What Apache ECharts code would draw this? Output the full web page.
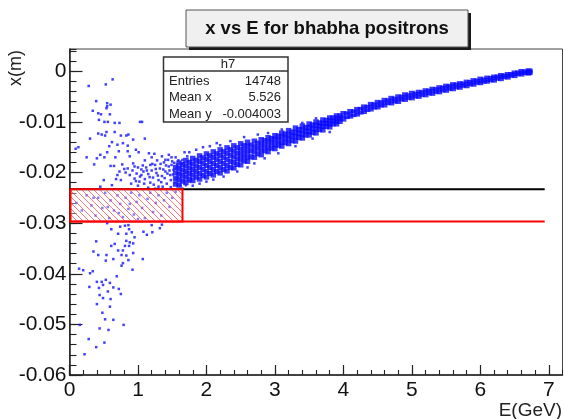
<!DOCTYPE html>
<html>
<head>
<meta charset="utf-8">
<script src="https://cdn.jsdelivr.net/npm/echarts@6/dist/echarts.min.js"></script>
<style>
  html, body { margin: 0; padding: 0; background: #fff; }
  #chart { width: 564px; height: 419px; }
</style>
</head>
<body>
<div id="chart"></div>
<script>
// Narrow high-energy part of the x vs E correlation: each row is [E, x1, x2, ...]
const bandColumns = [
  [6.72, 0.0002, -0.0001, -0.0004],
  [6.70, 0.0002, -0.0002, -0.0005],
  [6.65, 0.0000, -0.0004],
  [6.60, 0.0001, -0.0003, -0.0007],
  [6.55, -0.0002, -0.0006],
  [6.50, -0.0002, -0.0006, -0.0010],
  [6.45, -0.0005, -0.0009],
  [6.40, -0.0005, -0.0009, -0.0013],
  [6.35, -0.0008, -0.0012],
  [6.30, -0.0007, -0.0011, -0.0016],
  [6.25, -0.0010, -0.0015],
  [6.20, -0.0010, -0.0014, -0.0019],
  [6.15, -0.0013, -0.0018],
  [6.10, -0.0012, -0.0017, -0.0021],
  [6.05, -0.0016, -0.0021],
  [6.00, -0.0014, -0.0019, -0.0024],
  [5.95, -0.0018, -0.0023],
  [5.90, -0.0017, -0.0022, -0.0027],
  [5.85, -0.0021, -0.0026],
  [5.80, -0.0020, -0.0025, -0.0030],
  [5.75, -0.0024, -0.0029],
  [5.70, -0.0023, -0.0028, -0.0033],
  [5.65, -0.0026, -0.0032],
  [5.60, -0.0025, -0.0030, -0.0036],
  [5.55, -0.0029, -0.0035],
  [5.50, -0.0028, -0.0033, -0.0039],
  [5.45, -0.0032, -0.0038],
  [5.40, -0.0031, -0.0036, -0.0042],
  [5.35, -0.0035, -0.0041],
  [5.30, -0.0034, -0.0039, -0.0045],
  [5.25, -0.0038, -0.0044],
  [5.20, -0.0037, -0.0042, -0.0048],
  [5.15, -0.0041, -0.0047],
  [5.10, -0.0040, -0.0045, -0.0051],
  [5.05, -0.0044, -0.0050],
  [5.00, -0.0042, -0.0048, -0.0054],
  [4.95, -0.0047, -0.0053],
  [4.90, -0.0045, -0.0051, -0.0057],
  [4.85, -0.0050, -0.0056],
  [4.80, -0.0049, -0.0055, -0.0061],
  [4.75, -0.0054, -0.0060],
  [4.70, -0.0052, -0.0058, -0.0064],
  [4.65, -0.0057, -0.0063],
  [4.60, -0.0056, -0.0062, -0.0068],
  [4.55, -0.0061, -0.0068],
  [4.50, -0.0060, -0.0066, -0.0072],
  [4.45, -0.0065, -0.0072],
  [4.40, -0.0064, -0.0070, -0.0076],
  [4.35, -0.0070, -0.0077],
  [4.30, -0.0069, -0.0075, -0.0081],
  [4.25, -0.0074, -0.0082],
  [4.20, -0.0074, -0.0080, -0.0086],
  [4.15, -0.0079, -0.0087],
  [4.10, -0.0078, -0.0084, -0.0090],
  [4.05, -0.0083, -0.0091],
  [4.00, -0.0082, -0.0089, -0.0096]
];

// Wider low-energy part of the correlation: [E, x1, x2, ...]
const spreadColumns = [
  [3.95, -0.0088, -0.0093, -0.0099],
  [3.90, -0.0088, -0.0093, -0.0099, -0.0104],
  [3.85, -0.0092, -0.0098, -0.0104],
  [3.80, -0.0092, -0.0098, -0.0104, -0.0110],
  [3.75, -0.0097, -0.0103, -0.0109],
  [3.70, -0.0096, -0.0103, -0.0109, -0.0116],
  [3.65, -0.0102, -0.0108, -0.0115],
  [3.60, -0.0100, -0.0107, -0.0115, -0.0122],
  [3.55, -0.0106, -0.0113, -0.0121],
  [3.50, -0.0104, -0.0111, -0.0119, -0.0126],
  [3.45, -0.0111, -0.0118, -0.0126],
  [3.40, -0.0108, -0.0116, -0.0124, -0.0132],
  [3.35, -0.0115, -0.0123, -0.0131],
  [3.30, -0.0112, -0.0121, -0.0129, -0.0138],
  [3.25, -0.0120, -0.0128, -0.0137],
  [3.20, -0.0117, -0.0126, -0.0134, -0.0143],
  [3.15, -0.0124, -0.0132, -0.0141],
  [3.10, -0.0122, -0.0130, -0.0140, -0.0148],
  [3.05, -0.0128, -0.0137, -0.0146],
  [3.00, -0.0127, -0.0135, -0.0145, -0.0153],
  [2.95, -0.0133, -0.0142, -0.0152],
  [2.90, -0.0131, -0.0140, -0.0150, -0.0159],
  [2.85, -0.0137, -0.0147, -0.0157],
  [2.80, -0.0135, -0.0145, -0.0155, -0.0165],
  [2.75, -0.0142, -0.0152, -0.0163],
  [2.70, -0.0138, -0.0149, -0.0159, -0.0170],
  [2.65, -0.0146, -0.0157, -0.0169],
  [2.60, -0.0140, -0.0149, -0.0159, -0.0169, -0.0178],
  [2.55, -0.0147, -0.0157, -0.0167, -0.0177],
  [2.50, -0.0143, -0.0154, -0.0164, -0.0174, -0.0185],
  [2.45, -0.0151, -0.0162, -0.0173, -0.0184],
  [2.40, -0.0147, -0.0158, -0.0169, -0.0180, -0.0191],
  [2.35, -0.0155, -0.0166, -0.0178, -0.0190],
  [2.30, -0.0151, -0.0162, -0.0174, -0.0186, -0.0197],
  [2.25, -0.0159, -0.0170, -0.0182, -0.0194],
  [2.20, -0.0155, -0.0166, -0.0178, -0.0190, -0.0201],
  [2.15, -0.0163, -0.0174, -0.0186, -0.0198],
  [2.10, -0.0159, -0.0170, -0.0182, -0.0194, -0.0205],
  [2.05, -0.0167, -0.0178, -0.0190, -0.0202],
  [2.00, -0.0163, -0.0174, -0.0186, -0.0198, -0.0209],
  [1.95, -0.0171, -0.0182, -0.0194, -0.0206],
  [1.90, -0.0167, -0.0178, -0.0190, -0.0202, -0.0213],
  [1.85, -0.0176, -0.0187, -0.0198, -0.0209],
  [1.80, -0.0172, -0.0183, -0.0194, -0.0205, -0.0216],
  [1.75, -0.0180, -0.0191, -0.0202, -0.0213],
  [1.70, -0.0176, -0.0187, -0.0198, -0.0209, -0.0220],
  [1.65, -0.0184, -0.0195, -0.0206, -0.0217],
  [1.60, -0.0181, -0.0192, -0.0203, -0.0214, -0.0225],
  [1.55, -0.0190, -0.0201, -0.0212, -0.0223]
];

// Individual entries scattered around the core, mostly at low energy
const scatterPoints = [
  [0.63, -0.0016], [0.28, -0.0029], [0.53, -0.0026], [0.39, -0.0059], [0.55, -0.0063],
  [0.60, -0.0066], [0.55, -0.0069], [0.34, -0.0078], [0.42, -0.0083], [0.46, -0.0085],
  [0.54, -0.0073], [0.59, -0.0085], [0.43, -0.0096], [0.51, -0.0100], [0.56, -0.0100],
  [0.66, -0.0102], [0.73, -0.0102], [1.03, -0.0100], [1.06, -0.0100], [0.42, -0.0123],
  [0.47, -0.0125], [0.52, -0.0127], [0.54, -0.0120], [0.66, -0.0120], [0.75, -0.0127],
  [0.30, -0.0133], [0.83, -0.0127], [0.93, -0.0135], [0.86, -0.0125], [1.10, -0.0133],
  [0.62, -0.0140], [0.70, -0.0145], [0.78, -0.0142], [0.85, -0.0147], [0.58, -0.0148],
  [0.09, -0.0153], [0.13, -0.0150], [0.36, -0.0184], [0.55, -0.0160], [0.72, -0.0158],
  [0.85, -0.0158], [1.01, -0.0160], [0.97, -0.0155], [1.16, -0.0162], [1.24, -0.0163],
  [1.20, -0.0170], [1.35, -0.0168], [1.49, -0.0170], [0.60, -0.0187], [0.65, -0.0187],
  [0.77, -0.0184], [0.93, -0.0182], [1.00, -0.0190], [1.05, -0.0194], [0.45, -0.0165],
  [0.40, -0.0172], [0.25, -0.0170], [0.67, -0.0170], [0.88, -0.0168], [1.10, -0.0176],
  [0.51, -0.0170],
  [0.82, -0.0200], [0.88, -0.0205], [0.92, -0.0196], [0.95, -0.0212], [0.98, -0.0202],
  [1.02, -0.0218], [1.05, -0.0205], [1.08, -0.0198], [1.10, -0.0213], [1.12, -0.0190],
  [1.15, -0.0203], [1.18, -0.0220], [1.20, -0.0196], [1.22, -0.0210], [1.25, -0.0185],
  [1.27, -0.0201], [1.30, -0.0215], [1.32, -0.0192], [1.35, -0.0207], [1.38, -0.0180],
  [1.40, -0.0198], [1.42, -0.0222], [1.45, -0.0188], [1.47, -0.0205], [1.50, -0.0178],
  [1.52, -0.0195], [1.55, -0.0212], [1.57, -0.0184], [1.60, -0.0201], [1.62, -0.0226],
  [1.30, -0.0228], [1.15, -0.0230], [1.00, -0.0226], [0.90, -0.0222], [0.75, -0.0215],
  [0.70, -0.0205], [0.62, -0.0225], [0.50, -0.0215], [0.45, -0.0228], [1.40, -0.0175],
  [1.28, -0.0176], [1.45, -0.0165], [1.55, -0.0170], [1.65, -0.0175], [1.70, -0.0225],
  [1.75, -0.0218], [1.68, -0.0160],
  [0.85, -0.0192], [0.95, -0.0188], [1.03, -0.0208], [1.07, -0.0186], [1.13, -0.0196],
  [1.17, -0.0209], [1.21, -0.0183], [1.23, -0.0224], [1.26, -0.0193], [1.29, -0.0206],
  [1.33, -0.0183], [1.34, -0.0219], [1.37, -0.0194], [1.39, -0.0211], [1.41, -0.0186],
  [1.43, -0.0202], [1.44, -0.0175], [1.46, -0.0196], [1.48, -0.0215], [1.49, -0.0185],
  [1.51, -0.0204], [1.53, -0.0181], [1.54, -0.0220], [1.56, -0.0193], [1.58, -0.0208],
  [1.59, -0.0176], [1.61, -0.0190], [1.63, -0.0214], [1.66, -0.0183], [1.69, -0.0199],
  [1.72, -0.0207], [1.36, -0.0228], [1.18, -0.0185], [1.09, -0.0222], [0.97, -0.0217],
  [0.80, -0.0193], [0.73, -0.0198], [0.68, -0.0213], [1.25, -0.0232], [1.48, -0.0229],
  [0.10, -0.0260], [0.18, -0.0275], [0.25, -0.0245], [0.32, -0.0265], [0.38, -0.0285],
  [0.42, -0.0250], [0.48, -0.0270], [0.52, -0.0240], [0.58, -0.0290], [0.60, -0.0255],
  [0.65, -0.0275], [0.70, -0.0245], [0.74, -0.0262], [0.78, -0.0288], [0.82, -0.0250],
  [0.86, -0.0272], [0.90, -0.0240], [0.94, -0.0283], [0.98, -0.0258], [1.02, -0.0245],
  [1.06, -0.0270], [1.10, -0.0290], [1.14, -0.0252], [1.18, -0.0240], [1.22, -0.0278],
  [1.26, -0.0260], [1.30, -0.0245], [1.34, -0.0285], [1.38, -0.0255], [1.42, -0.0240],
  [1.46, -0.0268], [1.50, -0.0250], [1.55, -0.0238], [0.72, -0.0280], [0.88, -0.0262],
  [1.00, -0.0292], [0.56, -0.0268], [0.35, -0.0250],
  [0.55, -0.0300], [0.61, -0.0312], [0.71, -0.0321], [0.74, -0.0307], [0.81, -0.0305],
  [0.86, -0.0304], [0.87, -0.0312], [0.91, -0.0318], [0.95, -0.0328], [0.83, -0.0321],
  [0.83, -0.0335], [0.88, -0.0338], [0.87, -0.0345], [0.93, -0.0340], [0.81, -0.0345],
  [0.66, -0.0341], [0.61, -0.0345], [0.39, -0.0336], [0.35, -0.0356], [0.42, -0.0363],
  [0.54, -0.0363], [0.64, -0.0371], [0.53, -0.0374], [0.71, -0.0354], [0.78, -0.0354],
  [0.76, -0.0363], [0.83, -0.0364], [0.86, -0.0373], [0.78, -0.0379], [0.76, -0.0384],
  [0.92, -0.0392], [1.07, -0.0371], [0.93, -0.0359], [1.08, -0.0317], [1.13, -0.0323],
  [1.21, -0.0318], [1.32, -0.0310], [1.20, -0.0304], [1.35, -0.0303], [0.20, -0.0393],
  [0.30, -0.0399], [0.34, -0.0395], [0.14, -0.0390], [0.29, -0.0426], [0.40, -0.0416],
  [0.47, -0.0416], [0.53, -0.0412], [0.49, -0.0422], [0.43, -0.0428], [0.69, -0.0405],
  [0.59, -0.0418], [0.64, -0.0427], [0.72, -0.0430], [0.75, -0.0440], [0.56, -0.0435],
  [0.44, -0.0442], [0.49, -0.0448], [0.60, -0.0450], [0.40, -0.0460], [0.59, -0.0465],
  [0.48, -0.0477], [0.52, -0.0490], [0.64, -0.0491], [0.15, -0.0501], [0.79, -0.0501],
  [0.44, -0.0508], [0.57, -0.0511], [0.28, -0.0529], [0.51, -0.0536], [0.39, -0.0545],
  [0.22, -0.0559],
  [1.75, -0.0160], [1.85, -0.0155], [1.95, -0.0150], [2.05, -0.0148], [2.15, -0.0142],
  [2.35, -0.0138], [2.55, -0.0130], [2.75, -0.0125], [1.80, -0.0226], [1.90, -0.0222],
  [2.00, -0.0218], [2.10, -0.0214], [2.25, -0.0208], [2.45, -0.0198], [2.70, -0.0182],
  [2.85, -0.0172], [3.05, -0.0162], [3.30, -0.0148], [2.90, -0.0122], [3.10, -0.0115],
  [3.40, -0.0102], [3.60, -0.0093], [1.65, -0.0232], [1.72, -0.0168], [3.55, -0.0133],
  [3.80, -0.0120], [2.60, -0.0190], [2.20, -0.0146]
];

// Selection window and cut lines
const cutUpper = -0.0233;
const cutLower = -0.0297;
const cutLineEndE = 6.94;
const windowEMax = 1.65;

// Axis ranges and titles
const xRange = [0, 7.2];
const yRange = [-0.06, 0.0044];
const titleText = 'x vs E for bhabha positrons';
const xTitle = 'E(GeV)';
const yTitle = 'x(m)';

// Statistics box
const statsName = 'h7';
const statsLabels = ['Entries', 'Mean x', 'Mean y'];
const statsValues = ['14748', '5.526', '-0.004003'];

function flatten(columns) {
  const out = [];
  columns.forEach(function (col) {
    for (let i = 1; i < col.length; i++) out.push([col[0], col[i]]);
  });
  return out;
}
const bandPoints = flatten(bandColumns);
const spreadPoints = flatten(spreadColumns);

// Diagonal hatch tile for the selection window
function hatchPattern() {
  const s = 6;
  const c = document.createElement('canvas');
  c.width = s; c.height = s;
  const ctx = c.getContext('2d');
  ctx.fillStyle = 'rgba(255,255,255,0.35)';
  ctx.fillRect(0, 0, s, s);
  ctx.strokeStyle = 'rgba(255,50,50,0.65)';
  ctx.lineWidth = 1;
  ctx.beginPath();
  ctx.moveTo(0, 0); ctx.lineTo(s, s);
  ctx.moveTo(-2, s - 2); ctx.lineTo(2, s + 2);
  ctx.moveTo(s - 2, -2); ctx.lineTo(s + 2, 2);
  ctx.stroke();
  return { image: c, repeat: 'repeat' };
}

const FONT = '"Liberation Sans", Arial, sans-serif';
const chart = echarts.init(document.getElementById('chart'), null, { renderer: 'canvas' });

const statsTexts = [];
statsLabels.forEach(function (lab, i) {
  const y = 81 + i * 16.5;
  statsTexts.push({
    type: 'text', x: 169, y: y, z: 101,
    style: { text: lab, font: '13px ' + FONT, fill: '#222', textAlign: 'left', textVerticalAlign: 'middle' }
  });
  statsTexts.push({
    type: 'text', x: 281, y: y, z: 101,
    style: { text: statsValues[i], font: '13px ' + FONT, fill: '#222', textAlign: 'right', textVerticalAlign: 'middle' }
  });
});

const gridBox = { left: 69.5, right: 1.5, top: 49, bottom: 44 };
const TICK = '#222';

chart.setOption({
  animation: false,
  backgroundColor: '#ffffff',
  grid: [
    Object.assign({ show: true, borderColor: '#444', borderWidth: 1, backgroundColor: 'transparent' }, gridBox),
    // twin grid carrying the finer subdivision ticks
    Object.assign({ show: false }, gridBox)
  ],
  xAxis: [
    {
      type: 'value', gridIndex: 0, min: xRange[0], max: xRange[1], interval: 1, position: 'bottom',
      axisLine: { show: true, onZero: false, lineStyle: { color: TICK, width: 1.5 } },
      axisTick: { show: true, inside: true, length: 10, lineStyle: { color: TICK, width: 1.2 } },
      axisLabel: { fontSize: 21, color: '#111', margin: 5, fontFamily: FONT, showMaxLabel: false },
      splitLine: { show: false }
    },
    {
      type: 'value', gridIndex: 1, min: xRange[0], max: xRange[1], interval: 0.2, position: 'bottom',
      axisLine: { show: false, onZero: false },
      axisTick: { show: true, inside: true, length: 5, lineStyle: { color: TICK, width: 1.1 } },
      axisLabel: { show: false },
      splitLine: { show: false }
    }
  ],
  yAxis: [
    {
      type: 'value', gridIndex: 0, min: yRange[0], max: yRange[1], interval: 0.01, position: 'left',
      axisLine: { show: true, onZero: false, lineStyle: { color: TICK, width: 1.5 } },
      axisTick: { show: true, inside: true, length: 13, lineStyle: { color: TICK, width: 1.2 } },
      axisLabel: {
        fontSize: 21, color: '#111', margin: 3, fontFamily: FONT, showMaxLabel: false,
        formatter: function (v) { return Math.abs(v) < 1e-9 ? '0' : String(+v.toFixed(2)); }
      },
      splitLine: { show: false }
    },
    {
      type: 'value', gridIndex: 1, min: yRange[0], max: yRange[1], interval: 0.002, position: 'left',
      axisLine: { show: false, onZero: false },
      axisTick: { show: true, inside: true, length: 7, lineStyle: { color: TICK, width: 1.1 } },
      axisLabel: { show: false },
      splitLine: { show: false }
    }
  ],
  series: [
    {
      name: 'core', type: 'scatter', xAxisIndex: 0, yAxisIndex: 0,
      data: bandPoints, symbol: 'rect', symbolSize: [6, 3.6],
      itemStyle: { color: '#0a0aff' }, silent: true, z: 2
    },
    {
      name: 'spread', type: 'scatter', xAxisIndex: 0, yAxisIndex: 0,
      data: spreadPoints, symbol: 'rect', symbolSize: [5.5, 5.2],
      itemStyle: { color: '#0a0aff' }, silent: true, z: 2
    },
    {
      name: 'entries', type: 'scatter', xAxisIndex: 0, yAxisIndex: 0,
      data: scatterPoints, symbol: 'rect', symbolSize: 2.5,
      itemStyle: { color: '#1f1fff', opacity: 0.85 }, silent: true, z: 2
    },
    {
      name: 'upper cut', type: 'line', xAxisIndex: 0, yAxisIndex: 0,
      data: [[0, cutUpper], [cutLineEndE, cutUpper]], symbol: 'none',
      lineStyle: { color: '#000000', width: 2 }, silent: true, z: 3
    },
    {
      name: 'lower cut', type: 'line', xAxisIndex: 0, yAxisIndex: 0,
      data: [[0, cutLower], [cutLineEndE, cutLower]], symbol: 'none',
      lineStyle: { color: '#ff0000', width: 2 }, silent: true, z: 3
    },
    {
      name: 'window', type: 'custom', xAxisIndex: 0, yAxisIndex: 0,
      data: [[0, cutUpper, windowEMax, cutLower]],
      encode: { x: [0, 2], y: [1, 3] },
      silent: true, z: 4,
      renderItem: function (params, api) {
        const p1 = api.coord([api.value(0), api.value(1)]);
        const p2 = api.coord([api.value(2), api.value(3)]);
        return {
          type: 'rect',
          shape: { x: p1[0] + 1, y: p1[1], width: p2[0] - p1[0] - 1, height: p2[1] - p1[1] },
          style: { fill: hatchPattern(), stroke: '#ff0000', lineWidth: 2 }
        };
      }
    }
  ],
  graphic: [
    // title pave with shadow
    { type: 'rect', z: 100, shape: { x: 189, y: 13, width: 282, height: 37 }, style: { fill: '#1a1a1a' } },
    { type: 'rect', z: 100, shape: { x: 186, y: 10, width: 282, height: 37 }, style: { fill: '#f0f0f0', stroke: '#555', lineWidth: 1 } },
    {
      type: 'text', z: 101, x: 327, y: 29,
      style: { text: titleText, font: 'bold 18.5px ' + FONT, fill: '#111', textAlign: 'center', textVerticalAlign: 'middle' }
    },
    // statistics box
    { type: 'rect', z: 100, shape: { x: 163.5, y: 57, width: 124.5, height: 65 }, style: { fill: '#ffffff', stroke: '#333', lineWidth: 1.5 } },
    { type: 'line', z: 101, shape: { x1: 163.5, y1: 71, x2: 288, y2: 71 }, style: { stroke: '#333', lineWidth: 1.5 } },
    {
      type: 'text', z: 101, x: 228, y: 64.5,
      style: { text: statsName, font: '13px ' + FONT, fill: '#222', textAlign: 'center', textVerticalAlign: 'middle' }
    }
  ].concat(statsTexts).concat([
    // axis titles
    {
      type: 'text', z: 101, x: 16, y: 68, rotation: Math.PI / 2,
      style: { text: yTitle, font: '18px ' + FONT, fill: '#222', textAlign: 'center', textVerticalAlign: 'middle' }
    },
    {
      type: 'text', z: 101, x: 562, y: 411,
      style: { text: xTitle, font: '19px ' + FONT, fill: '#222', textAlign: 'right', textVerticalAlign: 'middle' }
    }
  ])
});
</script>
</body>
</html>
